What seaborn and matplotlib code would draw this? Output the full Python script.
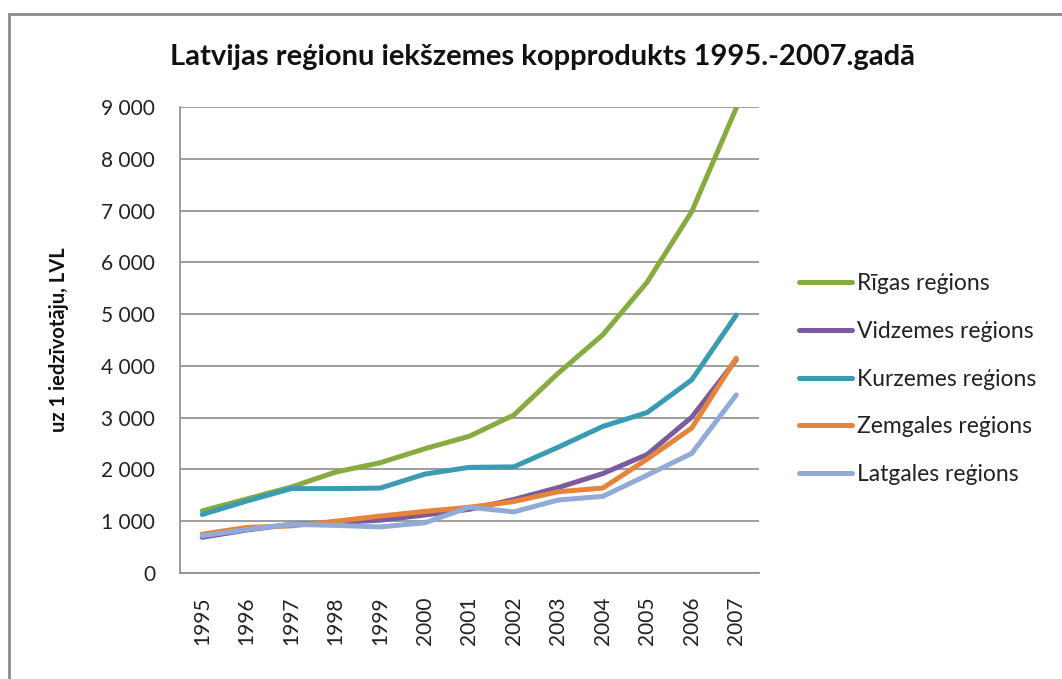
"""Latvian regional GDP per capita 1995-2007, line chart."""
import matplotlib
matplotlib.use("Agg")
from matplotlib import pyplot as plt
from matplotlib import patches
from matplotlib.ticker import FuncFormatter, MultipleLocator
import pandas as pd
import seaborn as sns

years = [1995, 1996, 1997, 1998, 1999, 2000, 2001,
         2002, 2003, 2004, 2005, 2006, 2007]
regions = ["Rīgas reģions", "Vidzemes reģions", "Kurzemes reģions",
           "Zemgales reģions", "Latgales reģions"]
riga = [1200, 1430, 1660, 1950, 2130, 2400, 2640,
        3050, 3860, 4600, 5620, 6980, 8980]
vidzeme = [690, 830, 940, 975, 1020, 1120, 1230,
           1420, 1650, 1920, 2290, 3010, 4120]
kurzeme = [1130, 1390, 1630, 1630, 1640, 1910, 2040,
           2050, 2430, 2830, 3100, 3730, 4980]
zemgale = [750, 880, 910, 1000, 1100, 1190, 1270,
           1380, 1570, 1640, 2200, 2800, 4150]
latgale = [720, 840, 940, 920, 890, 970, 1270,
           1180, 1410, 1480, 1890, 2310, 3440]
colors = ["#86AB3F", "#7A5C9E", "#3A9CB3", "#E8843A", "#91AAD6"]

title = "Latvijas reģionu iekšzemes kopprodukts 1995.-2007.gadā"
ylabel = "uz 1 iedzīvotāju, LVL"

# long-form table for seaborn
series = [riga, vidzeme, kurzeme, zemgale, latgale]
rows = []
for name, values in zip(regions, series):
    for i, (year, value) in enumerate(zip(years, values)):
        rows.append({"pos": i, "year": year, "region": name, "value": value})
df = pd.DataFrame(rows)

sns.set_theme(style="white")
plt.rcParams["font.family"] = ["Lato", "DejaVu Sans"]

fig = plt.figure(figsize=(10.62, 6.79), dpi=100)
ax = fig.add_axes([180 / 1062, 1 - 573 / 679, 578.5 / 1062, 466 / 679])

sns.lineplot(
    data=df, x="pos", y="value", hue="region",
    hue_order=regions, palette=colors,
    linewidth=3.6, ax=ax, legend=True,
)

ax.set_xlim(-0.5, len(years) - 0.5)
ax.set_ylim(0, 9000)
ax.set_xticks(range(len(years)))
ax.set_xticklabels([str(y) for y in years], rotation=90, fontsize=15,
                   color="#222222")
ax.yaxis.set_major_locator(MultipleLocator(1000))
ax.yaxis.set_major_formatter(
    FuncFormatter(lambda v, p: f"{int(v):,}".replace(",", " ")))
ax.tick_params(axis="y", length=0, pad=18, labelsize=15, labelcolor="#222222")
ax.tick_params(axis="x", length=0, pad=17)
ax.grid(axis="y", color="#8C8C8C", linewidth=1.2)
ax.grid(axis="x", visible=False)
ax.set_axisbelow(True)

for side in ["top", "right"]:
    ax.spines[side].set_visible(False)
for side in ["left", "bottom"]:
    ax.spines[side].set_color("#8C8C8C")
    ax.spines[side].set_linewidth(1.2)

ax.set_xlabel("")
ax.set_ylabel(ylabel, fontsize=14.5, fontweight="bold", color="#111111")
ax.yaxis.set_label_coords(-0.192, 0.5)

fig.text(543 / 1062, 1 - 57 / 679, title, ha="center", va="center",
         fontsize=21, fontweight="bold", color="#111111")

leg = ax.legend(
    loc="upper left", bbox_to_anchor=(799 / 1062, 1 - 273 / 679),
    bbox_transform=fig.transFigure, frameon=False, fontsize=16.5,
    handlelength=2.3, handletextpad=0.22, labelspacing=1.17, borderpad=0,
    borderaxespad=0,
)
for line in leg.get_lines():
    line.set_linewidth(3.6)
for text in leg.get_texts():
    text.set_color("#222222")

# chart area frame
fig.patches.append(patches.Rectangle(
    (9 / 1062, -0.05), 1.2, 1 - 14 / 679 + 0.05,
    transform=fig.transFigure, fill=False,
    edgecolor="#8C8C8C", linewidth=2, figure=fig))

fig.savefig("out.png", dpi=100)
